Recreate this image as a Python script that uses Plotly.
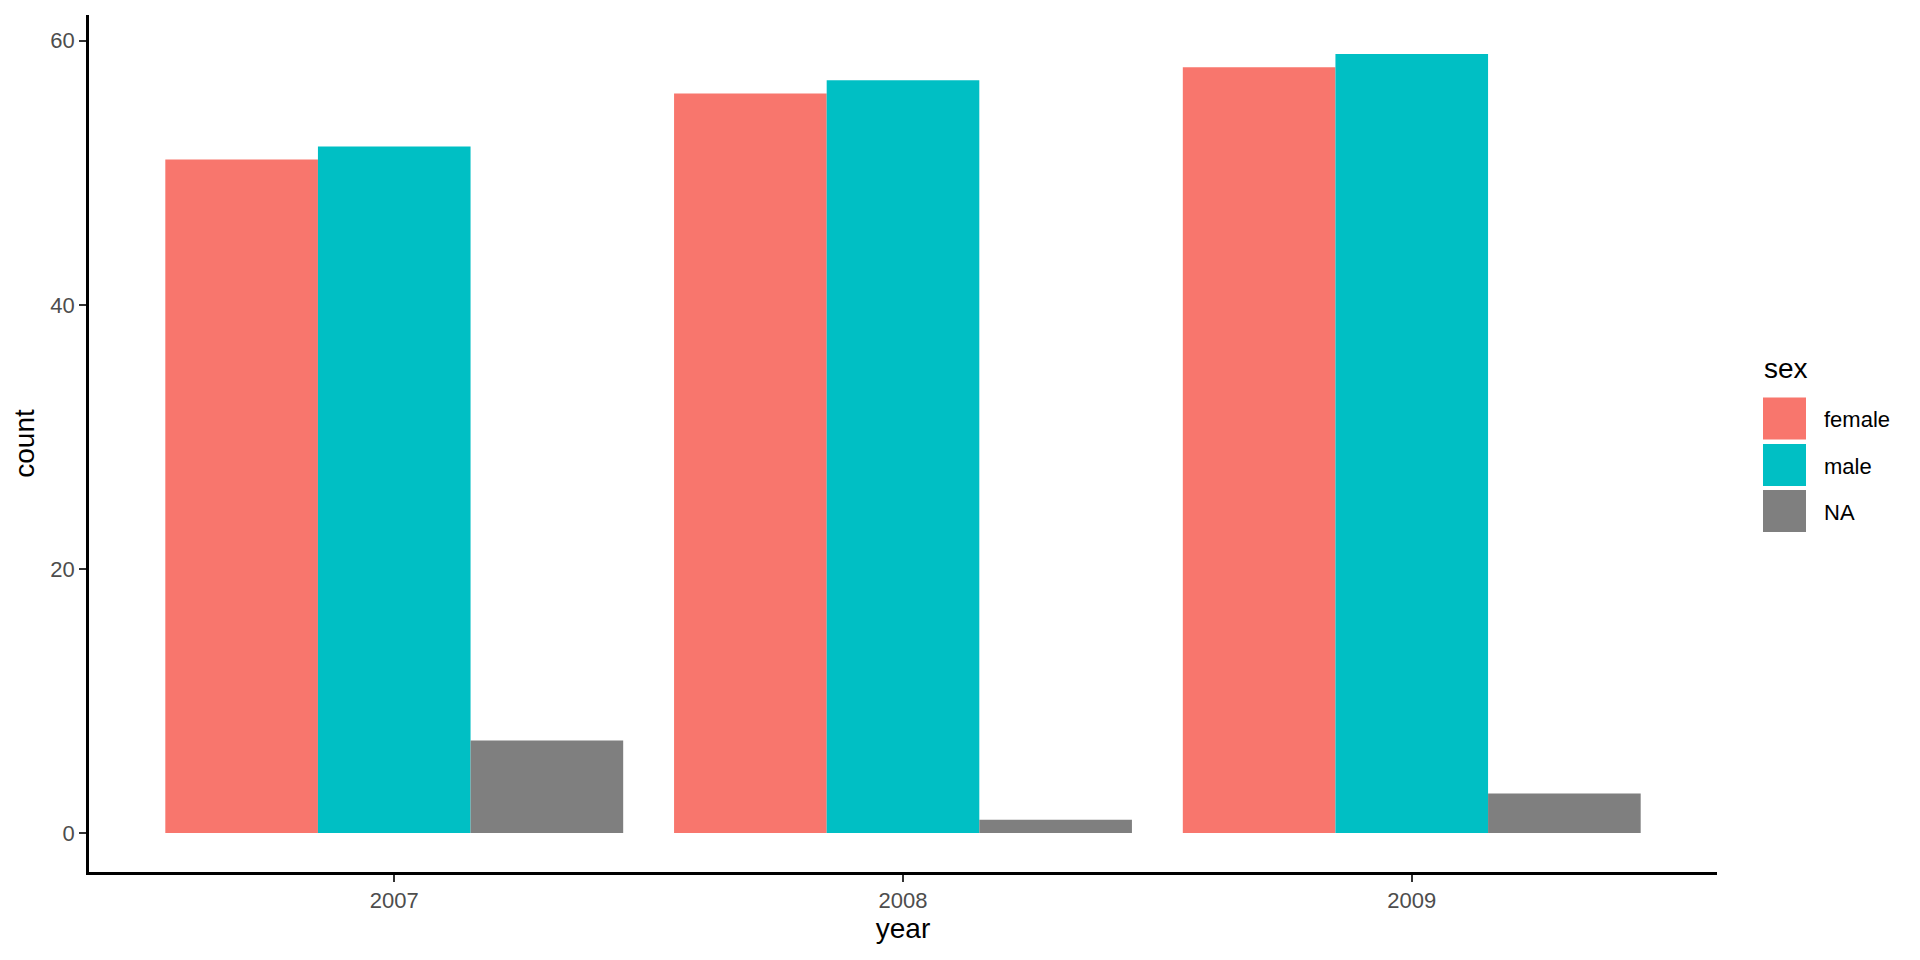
import plotly.graph_objects as go

years = ["2007", "2008", "2009"]
sexes = ["female", "male", "NA"]
female_counts = [51, 56, 58]
male_counts = [52, 57, 59]
na_counts = [7, 1, 3]
colors = ["#F8766D", "#00BFC4", "#7F7F7F"]

series = [female_counts, male_counts, na_counts]

fig = go.Figure()
for name, vals, col in zip(sexes, series, colors):
    fig.add_trace(go.Bar(x=years, y=vals, name=name, marker=dict(color=col, line=dict(width=0)),
                         showlegend=False))

W, H = 1920, 960
OFF = 8  # page body offset
# desired plot box in screen pixels: x 89..1717, y 15..872
ml, mt = 89 - OFF, 15 - OFF
mr = W - (1717 - OFF)
mb = H - (872 - OFF)

FONT = "Liberation Sans, Arial, sans-serif"

fig.update_layout(
    width=W, height=H,
    margin=dict(l=ml, r=mr, t=mt, b=mb, autoexpand=False),
    paper_bgcolor="white", plot_bgcolor="white",
    barmode="group", bargap=0.1, bargroupgap=0,
    font=dict(family=FONT, color="black"),
    xaxis=dict(
        type="category", range=[-0.6, 2.6],
        showline=True, linecolor="black", linewidth=2.5,
        ticks="outside", ticklen=7, tickcolor="#333333", tickwidth=2,
        tickfont=dict(size=22, color="#4D4D4D"),
        showgrid=False, zeroline=False,
        title=dict(text="year", font=dict(size=28, color="black"), standoff=6),
    ),
    yaxis=dict(
        range=[-2.95, 61.95],
        tickvals=[0, 20, 40, 60],
        showline=True, linecolor="black", linewidth=2.5,
        ticks="outside", ticklen=7, tickcolor="#333333", tickwidth=2,
        tickfont=dict(size=22, color="#4D4D4D"),
        showgrid=False, zeroline=False,
        title=dict(text="count", font=dict(size=28, color="black"), standoff=8),
    ),
)

# manual ggplot-style legend (screen pixel positions converted to paper coords)
def px2paper_x(px):
    return (px - OFF - ml) / (W - ml - mr)

def py2paper_y(py):
    return (H - mb - (py - OFF)) / (H - mt - mb)

fig.add_annotation(text="sex", xref="paper", yref="paper",
                   x=px2paper_x(1762), y=py2paper_y(369), xanchor="left", yanchor="middle",
                   showarrow=False, font=dict(size=28, color="black"))
key_centers = [418.5, 465, 511]
for name, col, cy in zip(sexes, colors, key_centers):
    fig.add_shape(type="rect", xref="paper", yref="paper",
                  x0=px2paper_x(1763), x1=px2paper_x(1806),
                  y0=py2paper_y(cy - 21), y1=py2paper_y(cy + 21),
                  fillcolor=col, line=dict(width=0))
    fig.add_annotation(text=name, xref="paper", yref="paper",
                       x=px2paper_x(1822), y=py2paper_y(cy + 1), xanchor="left", yanchor="middle",
                       showarrow=False, font=dict(size=22, color="black"))

fig.write_html("out.html")
